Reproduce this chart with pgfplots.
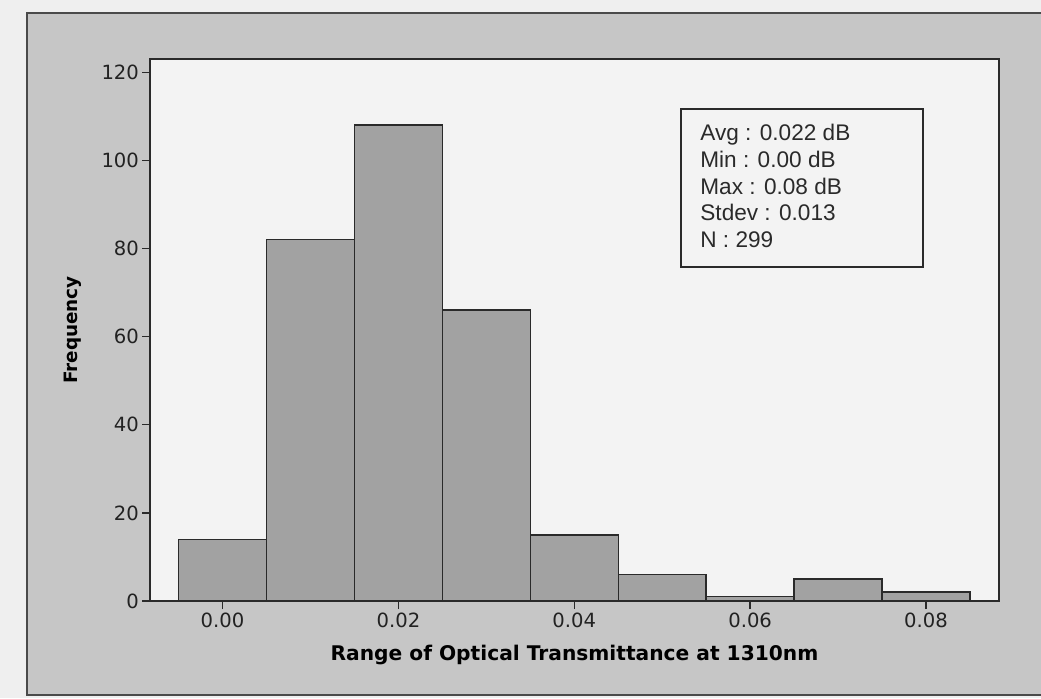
\documentclass[border=0pt]{standalone}
\usepackage{pgfplots}
\pgfplotsset{compat=1.18}
\usepackage{fontspec}
\setmainfont{DejaVu Sans}
\newfontfamily\arialf{Liberation Sans}
\definecolor{strip}{HTML}{EFEFEF}
\definecolor{panel}{HTML}{C6C6C6}
\definecolor{plotbg}{HTML}{F3F3F3}
\definecolor{barfill}{HTML}{A2A2A2}
\definecolor{darkline}{HTML}{2A2A2A}
\definecolor{ticktext}{HTML}{222222}
\begin{document}
\begin{tikzpicture}
\path[use as bounding box] (0,0) rectangle (520.5pt,349pt);
\clip (0,0) rectangle (520.5pt,349pt);
\fill[strip] (0,0) rectangle (520.5pt,349pt);
\fill[panel] (13.5pt,1.5pt) rectangle (530pt,342.5pt);
\draw[darkline!85, line width=1.1pt] (13.5pt,1.5pt) rectangle (530pt,342.5pt);
\begin{axis}[
  at={(75pt,48.5pt)}, anchor=south west,
  scale only axis, width=424.5pt, height=271pt,
  xmin=-0.00825, xmax=0.0883, ymin=0, ymax=123,
  xtick={0,0.02,0.04,0.06,0.08},
  ytick={0,20,40,60,80,100,120},
  scaled x ticks=false, scaled y ticks=false,
  /pgf/number format/assume math mode=true,
  tick label style={font=\fontsize{9.8}{11}\selectfont, text=ticktext},
  xticklabel style={yshift=1.5pt, /pgf/number format/.cd, fixed, fixed zerofill, precision=2},
  yticklabel style={xshift=2pt},
  xtick pos=lower, ytick pos=left,
  tick align=outside, major tick length=4pt,
  tick style={darkline, line width=0.7pt},
  axis line style={darkline, line width=0.8pt},
  axis background/.style={fill=plotbg},
  axis on top,
  xlabel={\bfseries Range of Optical Transmittance at 1310nm},
  xlabel style={font=\fontsize{10.1}{12}\selectfont, at={(axis description cs:0.5,0)}, anchor=base, yshift=-29.85pt},
  ylabel={\bfseries Frequency},
  ylabel style={font=\fontsize{9.2}{11}\selectfont, at={(axis description cs:0,0.5)}, anchor=center, yshift=38.5pt},
]
\addplot[ybar, bar width=0.01, bar shift=0, fill=barfill, draw=darkline, line width=0.7pt]
  coordinates {(0.00,14) (0.01,82) (0.02,108) (0.03,66) (0.04,15) (0.05,6) (0.06,1) (0.07,5) (0.08,2)};
\end{axis}
\draw[darkline, line width=1pt] (340.5pt,215.5pt) rectangle (461.5pt,294.5pt);
\begin{scope}[every node/.style={anchor=base west, inner sep=0pt, font=\arialf\fontsize{11.3}{13}\selectfont, text=darkline}]
\node at (350pt,278.6pt) {Avg : 0.022 dB};
\node at (350pt,265.2pt) {Min : 0.00 dB};
\node at (350pt,251.9pt) {Max : 0.08 dB};
\node at (350pt,238.5pt) {Stdev : 0.013};
\node at (350pt,225.1pt) {N : 299};
\end{scope}
\end{tikzpicture}
\end{document}
